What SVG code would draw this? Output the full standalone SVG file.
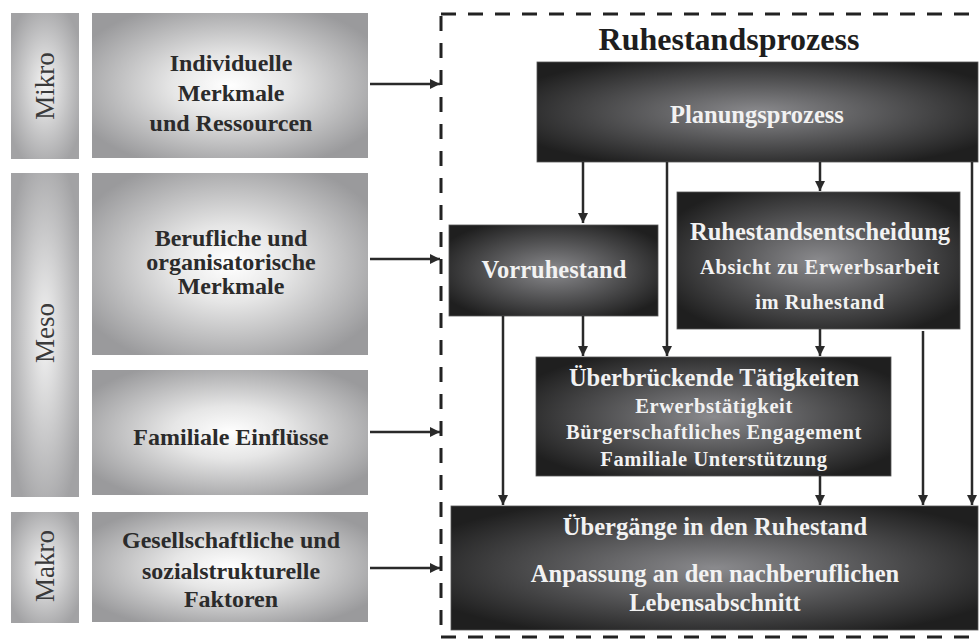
<svg xmlns="http://www.w3.org/2000/svg" width="980" height="639" viewBox="0 0 980 639">
<defs>
<radialGradient id="gLight" cx="0.5" cy="0.5" r="0.6">
<stop offset="0" stop-color="#ffffff"/>
<stop offset="0.35" stop-color="#e6e6e6"/>
<stop offset="1" stop-color="#9a9a9c"/>
</radialGradient>
<radialGradient id="gLabel" cx="0.5" cy="0.5" r="0.6">
<stop offset="0" stop-color="#f4f4f4"/>
<stop offset="1" stop-color="#a2a2a4"/>
</radialGradient>
<radialGradient id="gDark" cx="0.5" cy="0.5" r="0.6">
<stop offset="0" stop-color="#8a8a8d"/>
<stop offset="1" stop-color="#1f1f1f"/>
</radialGradient>
<marker id="ah" markerUnits="userSpaceOnUse" markerWidth="10" markerHeight="10" refX="10" refY="5" orient="auto">
<path d="M0,0 L10,5 L0,10 z" fill="#2a2a2a"/>
</marker>
</defs>
<style>
.light{fill:url(#gLight);}
.label{fill:url(#gLabel);}
.dark{fill:url(#gDark);stroke:#555;stroke-width:0.8;}
.lt{font-family:"Liberation Serif",serif;font-weight:bold;font-size:24px;fill:#2b2b2b;text-anchor:middle;}
.lab{font-family:"Liberation Serif",serif;font-size:27px;fill:#3a3a3a;text-anchor:middle;}
.dt{font-family:"Liberation Serif",serif;font-weight:bold;font-size:24.5px;fill:#f2f2f2;text-anchor:middle;}
.ds{font-family:"Liberation Serif",serif;font-weight:bold;font-size:20.5px;fill:#f2f2f2;text-anchor:middle;letter-spacing:0.6px;}
.title{font-family:"Liberation Serif",serif;font-weight:bold;font-size:32px;fill:#1e1e1e;text-anchor:middle;}
.con{stroke:#2a2a2a;stroke-width:2.5;fill:none;marker-end:url(#ah);}
.dash{fill:none;stroke:#222;stroke-width:3;stroke-dasharray:15 12;}
</style>
<rect width="980" height="639" fill="#ffffff"/>

<g id="levels">
<g id="mikro">
<rect class="label" x="11" y="13" width="68" height="146"/>
<text class="lab" transform="translate(54,86) rotate(-90)">Mikro</text>
</g>
<g id="meso">
<rect class="label" x="11" y="173" width="68" height="324"/>
<text class="lab" transform="translate(54,333) rotate(-90)">Meso</text>
</g>
<g id="makro">
<rect class="label" x="11" y="512" width="68" height="111"/>
<text class="lab" transform="translate(54,566) rotate(-90)">Makro</text>
</g>
</g>

<g id="individuelle">
<rect class="light" x="92" y="13" width="276" height="145"/>
<text class="lt" x="231" y="71">Individuelle</text>
<text class="lt" x="231" y="101">Merkmale</text>
<text class="lt" x="231" y="131">und Ressourcen</text>
</g>
<g id="berufliche">
<rect class="light" x="92" y="173" width="276" height="182"/>
<text class="lt" x="231" y="246">Berufliche und</text>
<text class="lt" x="231" y="270">organisatorische</text>
<text class="lt" x="231" y="294">Merkmale</text>
</g>
<g id="familiale">
<rect class="light" x="92" y="370" width="276" height="125"/>
<text class="lt" x="231" y="445">Familiale Einflüsse</text>
</g>
<g id="gesellschaftliche">
<rect class="light" x="92" y="512" width="276" height="110"/>
<text class="lt" x="231" y="548">Gesellschaftliche und</text>
<text class="lt" x="231" y="579">sozialstrukturelle</text>
<text class="lt" x="231" y="607">Faktoren</text>
</g>

<g id="ruhestandsprozess">
<rect class="dash" x="441" y="14" width="560" height="623"/>
<text class="title" x="729" y="50">Ruhestandsprozess</text>
</g>

<g id="planungsprozess">
<rect class="dark" x="537" y="62" width="441" height="100"/>
<text class="dt" x="757" y="123">Planungsprozess</text>
</g>
<g id="vorruhestand">
<rect class="dark" x="449" y="225" width="209" height="91"/>
<text class="dt" x="554" y="278">Vorruhestand</text>
</g>
<g id="ruhestandsentscheidung">
<rect class="dark" x="677" y="192" width="283" height="137"/>
<text class="dt" x="820" y="240">Ruhestandsentscheidung</text>
<text class="ds" x="820" y="274">Absicht zu Erwerbsarbeit</text>
<text class="ds" x="820" y="309">im Ruhestand</text>
</g>
<g id="ueberbrueckende">
<rect class="dark" x="536" y="357" width="355" height="119"/>
<text class="dt" x="714" y="386">Überbrückende Tätigkeiten</text>
<text class="ds" x="714" y="413">Erwerbstätigkeit</text>
<text class="ds" x="714" y="439">Bürgerschaftliches Engagement</text>
<text class="ds" x="714" y="466">Familiale Unterstützung</text>
</g>
<g id="uebergaenge">
<rect class="dark" x="451" y="506" width="527" height="124"/>
<text class="dt" x="715" y="535">Übergänge in den Ruhestand</text>
<text class="dt" x="715" y="582">Anpassung an den nachberuflichen</text>
<text class="dt" x="715" y="611">Lebensabschnitt</text>
</g>

<g id="connectors">
<line class="con" x1="370" y1="84" x2="440" y2="84"/>
<line class="con" x1="370" y1="259" x2="440" y2="259"/>
<line class="con" x1="370" y1="432" x2="440" y2="432"/>
<line class="con" x1="370" y1="568" x2="440" y2="568"/>
<line class="con" x1="583" y1="162" x2="583" y2="223"/>
<line class="con" x1="820" y1="162" x2="820" y2="191"/>
<line class="con" x1="667" y1="162" x2="667" y2="356"/>
<line class="con" x1="972" y1="162" x2="972" y2="505"/>
<line class="con" x1="583" y1="316" x2="583" y2="356"/>
<line class="con" x1="503" y1="316" x2="503" y2="505"/>
<line class="con" x1="820" y1="329" x2="820" y2="356"/>
<line class="con" x1="923" y1="331" x2="923" y2="505"/>
<line class="con" x1="820" y1="476" x2="820" y2="505"/>
</g>
</svg>
